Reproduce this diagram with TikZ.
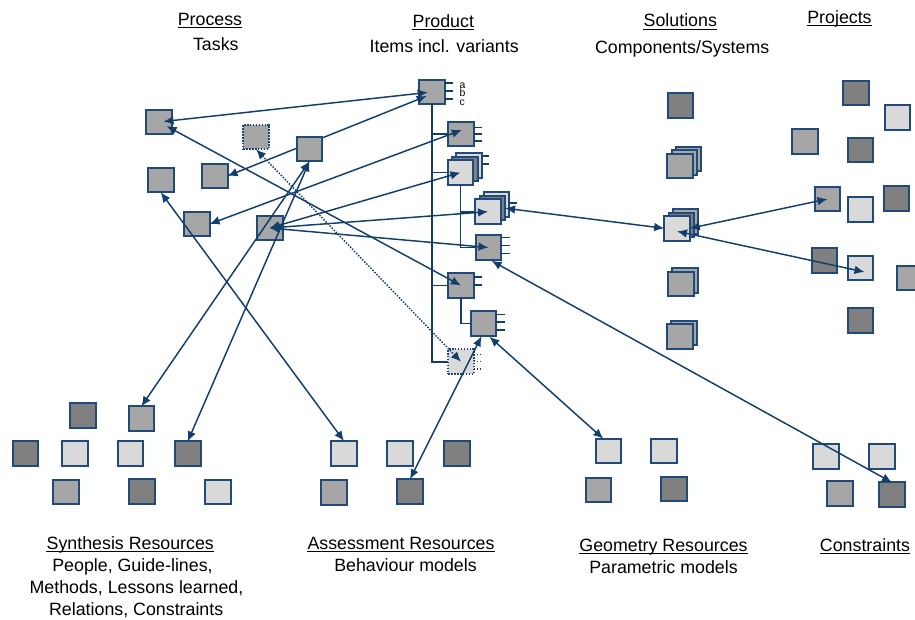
\documentclass[tikz,border=0pt]{standalone}
\usepackage{fontspec}
\setmainfont{Liberation Sans}
\usetikzlibrary{arrows.meta,calc}
\definecolor{bordc}{HTML}{1F4A7A}
\definecolor{linec}{HTML}{123E6C}
\definecolor{gdark}{HTML}{808080}
\definecolor{gmid}{HTML}{A6A6A6}
\definecolor{glight}{HTML}{D9D9D9}
\begin{document}
\begin{tikzpicture}[x=0.75pt,y=-0.75pt,
  sq/.style={draw=bordc, line width=1.5pt, minimum width=19.2pt, minimum height=18.4pt, inner sep=0pt, outer sep=0pt},
  dk/.style={sq, fill=gdark},
  md/.style={sq, fill=gmid},
  lt/.style={sq, fill=glight},
  dotsq/.style={dash pattern=on 1.2pt off 1pt},
  conn/.style={draw=linec, line width=1.1pt, {Latex[length=7.5pt,width=6.5pt]}-{Latex[length=7.5pt,width=6.5pt]}},
  dotconn/.style={conn, dash pattern=on 1.1pt off 1.1pt},
  tree/.style={draw=linec, line width=1.2pt},
  lbl/.style={font=\fontsize{13.35}{16}\selectfont, inner sep=0pt, anchor=base, text=black},
  ul/.style={draw=black, line width=0.75pt},
  small/.style={font=\fontsize{7.8}{8}\selectfont, inner sep=0pt, anchor=base west, text=black}]
\useasboundingbox (0,0) rectangle (915,619);
\clip (0,0) rectangle (915,619);

% ---------- labels ----------
\node[lbl] (tProc) at (210,25) {Process};
\node[lbl] (tTasks) at (215.8,50) {Tasks};
\node[lbl] (tProd) at (443.3,27.3) {Product};
\node[lbl] (tItems) at (444.2,52.7) {Items incl. variants};
\node[lbl] (tSol) at (680.3,26.7) {Solutions};
\node[lbl] (tComp) at (682.2,53.3) {Components/Systems};
\node[lbl] (tProj) at (839.5,23.3) {Projects};
\node[lbl] (tSyn) at (130.3,549.3) {Synthesis Resources};
\node[lbl] (tSyn2) at (132.5,571.5) {People, Guide-lines,};
\node[lbl] (tSyn3) at (136.5,593.5) {Methods, Lessons learned,};
\node[lbl] (tSyn4) at (136.2,615) {Relations, Constraints};
\node[lbl] (tAss) at (401,549) {Assessment Resources};
\node[lbl] (tAss2) at (405.5,571.5) {Behaviour models};
\node[lbl] (tGeo) at (663.5,551) {Geometry Resources};
\node[lbl] (tGeo2) at (663.5,573) {Parametric models};
\node[lbl] (tCon) at (865,551) {Constraints};
\foreach \n in {tProc,tProd,tSol,tProj,tSyn,tAss,tGeo,tCon}
  \draw[ul] ([yshift=-1.8pt]\n.base west) -- ([yshift=-1.8pt]\n.base east);

% ---------- process tasks ----------
\node[md] (T1) at (159,122) {};
\node[md, dotsq] (T2) at (256,137) {};
\node[md] (T4) at (160.7,180) {};
\node[md] (T5) at (214.7,176) {};
\node[md] (T6) at (196.8,224) {};
\node[md] (T7) at (269.7,228) {};

% ---------- product tree ----------
\node[md] (P0) at (431.7,92) {};
\node[lt] (P2b) at (469.1,165.5) {};
\node[dk] (P2m) at (464.8,169) {};
\node[lt] (P2) at (460.5,172.5) {};
\node[md] (P1) at (460.8,134) {};
\node[lt] (P3b) at (496.6,204.7) {};
\node[dk] (P3m) at (492.3,208.2) {};
\node[lt] (P3) at (488,211.7) {};
\node[md] (P4) at (488.5,247.5) {};
\node[md] (P5) at (461,285.5) {};
\node[md] (P6) at (483.5,323.5) {};
\node[lt, dotsq] (P7) at (461,361.7) {};

\draw[tree] (P0.south) |- (P7.west);
\draw[tree] (P0.south |- P1.west) -- (P1.west);
\draw[tree] (P0.south |- P2.west) -- (P2.west);
\draw[tree] (P0.south |- P5.west) -- (P5.west);
\draw[tree] (P2.south) |- (P4.west);
\draw[tree] (P2.south |- P3.west) -- (P3.west);
\draw[tree] (P5.south) |- (P6.west);

\foreach \dy in {-9.3,-1.3,6.7} \draw[tree] ($(P0.east)+(0,\dy)$) -- +(8.3,0);
\foreach \dy in {-6.5,0,7} \draw[tree] ($(P1.east)+(0,\dy)$) -- +(8,0);
\foreach \dy in {-9.5,-1.5} \draw[tree] ($(P2b.east)+(0,\dy)$) -- +(7,0);
\foreach \dy in {-2} \draw[tree] ($(P3b.east)+(0,\dy)$) -- +(8,0);
\foreach \dy in {-10,-2,6} \draw[tree] ($(P4.east)+(0,\dy)$) -- +(8.7,0);
\foreach \dy in {-8.8,-0.8} \draw[tree] ($(P5.east)+(0,\dy)$) -- +(8.3,0);
\foreach \dy in {-9.2,-1.5,6.5} \draw[tree] ($(P6.east)+(0,\dy)$) -- +(8.7,0);
\foreach \dy in {-7.4,-0.4,7.3} \draw[tree, dash pattern=on 1.1pt off 1.1pt] ($(P7.east)+(0,\dy)$) -- +(7.7,0);

% ---------- solutions ----------
\node[dk] (S1) at (680.3,105.7) {};
\node[md] (S2b) at (688.6,159) {};
\node[md] (S2m) at (684.3,162.5) {};
\node[md] (S2) at (680,166) {};
\node[md] (S3b) at (685.6,221.3) {};
\node[dk] (S3m) at (681.3,224.8) {};
\node[lt] (S3) at (677,228.3) {};
\node[md] (S4b) at (684.8,280.3) {};
\node[md] (S4) at (680.8,283.8) {};
\node[md] (S5b) at (684,332.8) {};
\node[md] (S5) at (680,336.3) {};

% ---------- projects ----------
\node[dk] (J1) at (856,93) {};
\node[lt] (J2) at (897.3,117.7) {};
\node[md] (J3) at (805,141.3) {};
\node[dk] (J4) at (860.5,150) {};
\node[md] (J5) at (827.5,199) {};
\node[lt] (J6) at (860.5,209.3) {};
\node[dk] (J7) at (896.5,198.5) {};
\node[dk] (J8) at (824.5,260.3) {};
\node[lt] (J9) at (860.5,268) {};
\node[md] (J10) at (910,278) {};
\node[dk] (J11) at (860.5,320.5) {};

% ---------- synthesis resources ----------
\node[dk] (B1) at (82.7,415.7) {};
\node[md] (B2) at (141.3,418.7) {};
\node[dk] (B3) at (25.5,453.7) {};
\node[lt] (B4) at (75,453.7) {};
\node[lt] (B5) at (130.5,453.7) {};
\node[dk] (B6) at (187.7,453.7) {};
\node[md] (B7) at (66,492) {};
\node[dk] (B8) at (142,491.5) {};
\node[lt] (B9) at (218,492) {};

% ---------- assessment resources ----------
\node[lt] (A1) at (344,453.3) {};
\node[lt] (A2) at (399.7,453.3) {};
\node[dk] (A3) at (456.7,453.3) {};
\node[md] (A4) at (334,492.5) {};
\node[dk] (A5) at (410,491.5) {};

% ---------- geometry resources ----------
\node[lt] (G1) at (608.3,451) {};
\node[lt] (G2) at (663.8,451) {};
\node[md] (G3) at (598.3,490) {};
\node[dk] (G4) at (674,489.2) {};

% ---------- constraints ----------
\node[lt] (C1) at (826,456.3) {};
\node[lt] (C2) at (881.7,456.3) {};
\node[md] (C3) at (839.7,493.5) {};
\node[dk] (C4) at (892,494.7) {};

% line that runs behind task T3
\draw[conn] (T5.east) -- ($(P0.center)+(-5,4)$);
\node[md] (T3) at (309.5,149) {};

% variant letters
\node[small] (la) at (459.3,88) {a};
\node[small] (lb) at (459.3,96.8) {b};
\node[small] (lc) at (459.3,105.4) {c};

% ---------- connectors ----------
\draw[conn, shorten <=3.4pt, shorten >=3pt] (T1.center) -- (P0.center);
\draw[conn] (T6.east) -- ($(P1.center)+(1,-4)$);
\draw[conn] (T7.center) -- (P2.center);
\draw[conn] (T7.center) -- (P3.center);
\draw[conn] (T7.center) -- (P4.center);
\draw[conn, shorten <=6.5pt] (T1.center) -- (P5.center);
\draw[dotconn] (T2.south) -- (P7.center);
\draw[conn] (T3.south) -- (B2.north);
\draw[conn] (T3.south) -- (B6.north);
\draw[conn] (T4.south) -- (A1.north);
\draw[conn] ($(P6.south)+(-2,0.5)$) -- (A5.north);
\draw[conn] ($(P6.south)+(6,1)$) -- ($(G1.north)+(-5,0)$);
\draw[conn] ($(P4.south)+(3,1)$) -- (C4.north);
\draw[conn] (P3m.east) -- (S3.west);
\draw[conn] (S3.east) -- (J5.center);
\draw[conn] ($(S3.center)+(0,3)$) -- ($(J9.center)+(4,4)$);
\end{tikzpicture}
\end{document}
